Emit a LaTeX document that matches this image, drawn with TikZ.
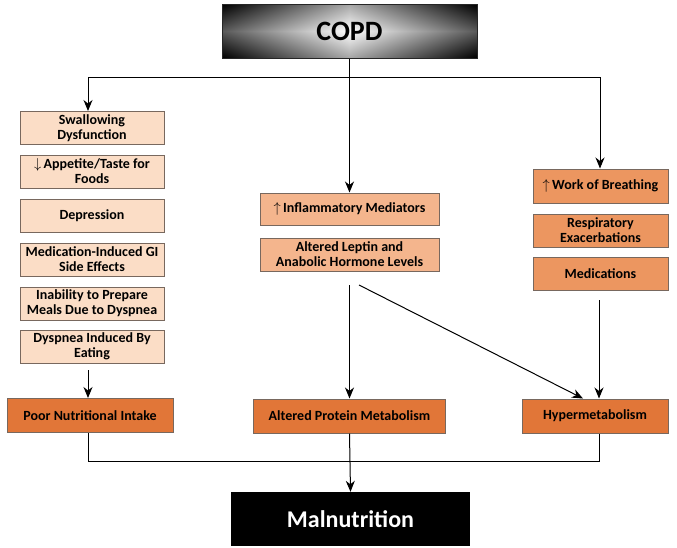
\documentclass[tikz,border=0pt]{standalone}
\usepackage{fontspec}
\setmainfont{Carlito}
\usetikzlibrary{arrows.meta}

\definecolor{peach}{RGB}{251,221,198}
\definecolor{salmon}{RGB}{244,181,141}
\definecolor{tangerine}{RGB}{236,150,96}
\definecolor{rust}{RGB}{225,118,56}
\definecolor{boxline}{RGB}{120,104,94}

\tikzset{
  causebox/.style={draw=boxline, line width=1pt, fill=peach, align=center, inner sep=0pt,
    minimum width=144pt, minimum height=33pt, font=\fontsize{14}{15}\selectfont\bfseries},
  mediatorbox/.style={causebox, fill=salmon, minimum width=179pt},
  demandbox/.style={causebox, fill=tangerine, minimum width=135pt},
  outcomebox/.style={causebox, fill=rust, minimum height=34pt},
  flow/.style={line width=1pt, -{Stealth[length=11pt,width=9pt,inset=3.5pt]}},
  link/.style={line width=1pt}
}

\begin{document}
\begin{tikzpicture}[x=1pt,y=1pt,yscale=-1,xscale=1]
\useasboundingbox (0,0) rectangle (677,547);

%Shape: Shaded Rectangle
\shade [left color=black, right color=black, middle color=white] (222,4) rectangle (477,58);
\shade [top color=black, bottom color=black, middle color=white, opacity=0.35] (222,4) rectangle (477,58);

% Top Node
\node (copd) at (349.5,31) [draw=black!85, line width=1pt, minimum width=255pt, minimum height=54pt,
  font=\fontsize{28}{30}\selectfont\bfseries] {COPD};

% Left Column
\node (swallow) at (92,128) [causebox] {Swallowing\\Dysfunction};
\node (appetite) at (92,171.5) [causebox] {$\downarrow$\,Appetite/Taste for\\Foods};
\node (depress) at (92,215.5) [causebox] {Depression};
\node (medgi) at (92,259.5) [causebox] {Medication-Induced GI\\Side Effects};
\node (inability) at (92,303.5) [causebox] {Inability to Prepare\\Meals Due to Dyspnea};
\node (dyseat) at (92,346.5) [causebox] {Dyspnea Induced By\\Eating};
\node (poor) at (90,415.5) [outcomebox, minimum width=166pt] {Poor Nutritional Intake};

% Middle Column
\node (inflam) at (349.5,209) [mediatorbox, minimum height=32pt] {$\uparrow$\,Inflammatory Mediators};
\node (leptin) at (349.5,254.5) [mediatorbox] {Altered Leptin and\\Anabolic Hormone Levels};
\node (protein) at (349.5,416) [outcomebox, minimum width=192pt] {Altered Protein Metabolism};

% Right Column
\node (wob) at (600.5,186) [demandbox, minimum height=34pt] {$\uparrow$\,Work of Breathing};
\node (resp) at (600.5,230.5) [demandbox] {Respiratory\\Exacerbations};
\node (meds) at (600.5,273.5) [demandbox] {Medications};
\node (hyper) at (595,416) [outcomebox, minimum width=146pt] {Hypermetabolism};

% Bottom Node
\node (maln) at (350.5,519) [fill=black, text=white, minimum width=239pt, minimum height=54pt,
  font=\fontsize{24}{28}\selectfont\bfseries] {Malnutrition};

% Branch Points
\coordinate (lefttop) at (88,77);
\coordinate (righttop) at (600,77);
\coordinate (leftgo) at (88,370);
\coordinate (midgo) at (349.5,285);
\coordinate (diaggo) at (359,285);
\coordinate (rightgo) at (599,300);
\coordinate (join) at (349.5,461);

%Straight Lines
\draw [flow] (copd.south) -- (inflam.north);
\draw [link] (lefttop) -- (righttop);
\draw [flow] (lefttop) -- (lefttop |- swallow.north);
\draw [flow] (righttop) -- (righttop |- wob.north);
\draw [flow] (leftgo) -- (leftgo |- poor.north);
\draw [flow] (midgo) -- (protein.north);
\draw [flow] (diaggo) -- ([xshift=-12pt]hyper.north);
\draw [flow] (rightgo) -- (rightgo |- hyper.north);
\draw [link] (leftgo |- poor.south) -- (leftgo |- join) -- (rightgo |- join) -- (rightgo |- hyper.south);
\draw [flow] (protein.south) -- (maln.north);

\end{tikzpicture}
\end{document}
